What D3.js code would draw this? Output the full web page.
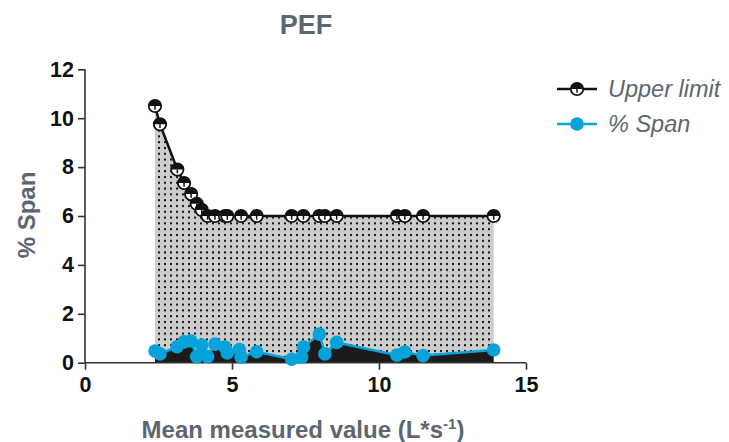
<!DOCTYPE html>
<html><head><meta charset="utf-8">
<script src="https://cdn.jsdelivr.net/npm/d3@7"></script>
<style>body{margin:0;background:#fff}svg{display:block}</style>
</head><body>
<svg id="c" width="729" height="442"></svg>
<script>
const upperX = [2.38,2.55,3.14,3.37,3.61,3.8,3.97,4.17,4.42,4.76,4.84,5.31,5.84,7.03,7.43,7.97,8.16,8.56,10.61,10.88,11.5,13.9];
const upperY = [10.5,9.75,7.9,7.35,6.9,6.5,6.25,6.0,6.0,6.0,6.0,6.0,6.0,6.0,6.0,6.0,6.0,6.0,6.0,6.0,6.0,6.0];
const spanX = [2.38,2.55,3.13,3.37,3.6,3.8,3.97,4.17,4.42,4.76,4.84,5.25,5.31,5.84,7.03,7.37,7.43,7.97,8.16,8.56,10.61,10.88,11.5,13.9];
const spanY = [0.48,0.36,0.65,0.85,0.89,0.25,0.72,0.25,0.76,0.64,0.4,0.54,0.23,0.45,0.14,0.23,0.64,1.17,0.36,0.83,0.31,0.44,0.29,0.52];
const xTicks = [0,5,10,15];
const yTicks = [0,2,4,6,8,10,12];
const seriesNames = ["Upper limit","% Span"];

const svg = d3.select("#c");
const x = d3.scaleLinear().domain([0,15]).range([85,526]);
const y = d3.scaleLinear().domain([0,12]).range([362.7,69.3]);
const gray = "#5d6670", blue = "#06a3da";
const ff = "Liberation Sans, Arial, sans-serif";

const defs = svg.append("defs");
const pat = defs.append("pattern").attr("id","dots").attr("patternUnits","userSpaceOnUse")
  .attr("width",6).attr("height",5.8);
pat.append("rect").attr("width",6).attr("height",5.8).attr("fill","#cdcdcd");
pat.append("rect").attr("x",2).attr("y",2).attr("width",2).attr("height",2).attr("fill","#111");

const up = upperX.map((v,i)=>({x:v,y:upperY[i]}));
const sp = spanX.map((v,i)=>({x:v,y:spanY[i]}));

svg.append("path").datum(up)
  .attr("d", d3.area().x(d=>x(d.x)).y0(y(0)).y1(d=>y(d.y)))
  .attr("fill","url(#dots)");
svg.append("path").datum(sp)
  .attr("d", d3.area().x(d=>x(d.x)).y0(y(0)).y1(d=>y(d.y)))
  .attr("fill","#1b1b1b");

// axes
const ax = svg.append("g").attr("transform",`translate(0,${y(0)})`)
  .call(d3.axisBottom(x).tickValues(xTicks).tickSize(7).tickPadding(7));
const ay = svg.append("g").attr("transform",`translate(${x(0)},0)`)
  .call(d3.axisLeft(y).tickValues(yTicks).tickSize(7).tickPadding(4));
[ax,ay].forEach(g=>{
  g.select(".domain").attr("stroke","#333").attr("stroke-width",1.6);
  g.selectAll(".tick line").attr("stroke","#333").attr("stroke-width",1.6);
  g.selectAll(".tick text").attr("fill","#111").attr("font-family",ff)
   .attr("font-weight","bold").attr("font-size",21.5);
});
ax.select(".domain").attr("d",`M${x(0)},0H${x(15)}`);
ay.select(".domain").attr("d",`M0,${y(12)}V${y(0)}`);

// upper line
svg.append("path").datum(up)
  .attr("d", d3.line().x(d=>x(d.x)).y(d=>y(d.y)))
  .attr("fill","none").attr("stroke","#111").attr("stroke-width",2.5);
function halfMarker(g,cx,cy,r){
  const m = g.append("g").attr("transform",`translate(${cx},${cy})`);
  m.append("circle").attr("r",r).attr("fill","#fff").attr("stroke","#111").attr("stroke-width",1.8);
  m.append("path").attr("d",d3.arc()({innerRadius:0,outerRadius:r,startAngle:-Math.PI/2,endAngle:Math.PI/2}))
    .attr("fill","#111");
  m.append("line").attr("x1",0).attr("x2",0).attr("y1",0).attr("y2",r*0.6).attr("stroke","#111").attr("stroke-width",1.5);
}
const gu = svg.append("g");
up.forEach(d=>halfMarker(gu,x(d.x),y(d.y),6.2));

// span line
svg.append("path").datum(sp)
  .attr("d", d3.line().x(d=>x(d.x)).y(d=>y(d.y)))
  .attr("fill","none").attr("stroke",blue).attr("stroke-width",2.5);
svg.append("g").selectAll("circle").data(sp).join("circle")
  .attr("cx",d=>x(d.x)).attr("cy",d=>y(d.y)).attr("r",6.8).attr("fill",blue);

// title & labels
svg.append("text").attr("x",306).attr("y",34).attr("text-anchor","middle")
  .attr("font-family",ff).attr("font-weight","bold").attr("font-size",27).attr("fill",gray).text("PEF");
svg.append("text").attr("transform","translate(35,215) rotate(-90)").attr("text-anchor","middle")
  .attr("font-family",ff).attr("font-weight","bold").attr("font-size",24).attr("fill",gray).text("% Span");
const xl = svg.append("text").attr("x",303).attr("y",438).attr("text-anchor","middle")
  .attr("font-family",ff).attr("font-weight","bold").attr("font-size",24).attr("fill",gray);
xl.append("tspan").text("Mean measured value (L*s");
xl.append("tspan").attr("font-size",15).attr("dy",-9).text("-1");
xl.append("tspan").attr("dy",9).text(")");

// legend
const lg = svg.append("g");
lg.append("line").attr("x1",557).attr("x2",597).attr("y1",89).attr("y2",89).attr("stroke","#111").attr("stroke-width",2.5);
halfMarker(lg,577,89,6.2);
lg.append("line").attr("x1",557).attr("x2",597).attr("y1",124).attr("y2",124).attr("stroke",blue).attr("stroke-width",2.5);
lg.append("circle").attr("cx",577).attr("cy",124).attr("r",6.8).attr("fill",blue);
lg.selectAll("text").data(seriesNames).join("text")
  .attr("x",608).attr("y",(d,i)=>97+i*35)
  .attr("font-family",ff).attr("font-style","italic").attr("font-size",23.5).attr("fill",gray).text(d=>d);
</script>
</body></html>
